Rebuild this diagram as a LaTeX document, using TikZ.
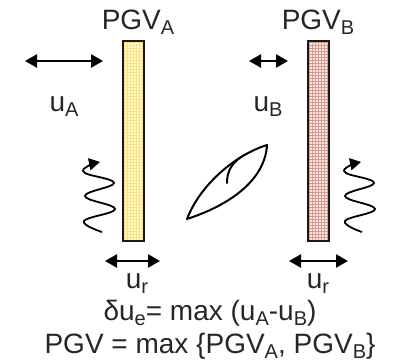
\documentclass[tikz,border=0pt]{standalone}
\usepackage{fontspec}
\setmainfont{Liberation Sans}
\usetikzlibrary{arrows.meta}
\definecolor{barAfill}{HTML}{FFF8D8}
\definecolor{barAgrid}{HTML}{FFE37A}
\definecolor{barBfill}{HTML}{F8E8E4}
\definecolor{barBgrid}{HTML}{D89A8C}
\newcommand\mysub[1]{\raisebox{-5pt}{\fontsize{20}{20}\selectfont #1}}
\begin{document}
\begin{tikzpicture}[x=1pt,y=-1pt,
  lbl/.style={inner sep=0pt,anchor=base,font=\fontsize{28}{32}\selectfont,text=black!85},
  dbl/.style={line width=2.4pt,{Triangle[length=12pt,width=13pt]}-{Triangle[length=12pt,width=13pt]}},
  wave/.style={line width=1.8pt,-{Triangle[length=11pt,width=12pt]}},
  leaf/.style={line width=2pt,line join=round,line cap=round},
  barA/.style={draw=black!90,line width=2pt,minimum width=21pt,minimum height=200pt,inner sep=0pt,fill=barAfill,
    path picture={\draw[barAgrid,line width=0.45pt] ([shift={(-2pt,-2pt)}]path picture bounding box.south west) grid[step=3pt] (path picture bounding box.north east);}},
  barB/.style={draw=black!90,line width=2pt,minimum width=21pt,minimum height=200pt,inner sep=0pt,fill=barBfill,
    path picture={\draw[barBgrid,line width=0.4pt] ([shift={(-2pt,-2pt)}]path picture bounding box.south west) grid[step=3pt] (path picture bounding box.north east);}}
]
\useasboundingbox (0,0) rectangle (404,363);
% bars
\node[barA] (A) at (133.5,141) {};
\node[barB] (B) at (318,141.5) {};
% top labels
\node[lbl] (pgva) at (138,30) {PGV\mysub{A}};
\node[lbl] (pgvb) at (318,30) {PGV\mysub{B}};
% uA / uB arrows
\coordinate (uAl) at (25,61); \coordinate (uAr) at (103,61);
\draw[dbl] (uAl) -- (uAr);
\node[lbl] (ua) at (64,112) {u\mysub{A}};
\coordinate (uBl) at (249,61); \coordinate (uBr) at (288,61);
\draw[dbl] (uBl) -- (uBr);
\node[lbl] (ub) at (268,112) {u\mysub{B}};
% bottom arrows
\coordinate (rAl) at (105,261); \coordinate (rAr) at (160,261);
\draw[dbl] (rAl) -- (rAr);
\node[lbl] (ura) at (137,288) {u\mysub{r}};
\coordinate (rBl) at (289,261); \coordinate (rBr) at (348,261);
\draw[dbl] (rBl) -- (rBr);
\node[lbl] (urb) at (318,288) {u\mysub{r}};
% waves
\draw[wave] plot[smooth,tension=0.7] coordinates {(102,232) (84,221) (115,209) (85,196) (114,183) (85,173) (88,166) (100,162)};
\draw[wave] plot[smooth,tension=0.7] coordinates {(362,232) (345,221) (375,209) (345,196) (374,183) (346,173) (349,166) (361,162)};
% leaf
\draw[leaf] (187,219) .. controls (200,185) and (235,155) .. (267,145)
  .. controls (265,180) and (230,205) .. (187,219) -- cycle;
\draw[leaf] (227,183) .. controls (227,172) and (231,164) .. (241,157);
% formulas
\node[lbl] (f1) at (210,320) {δu\mysub{e}= max (u\mysub{A}-u\mysub{B})};
\node[lbl] (f2) at (210,353) {PGV = max \{PGV\mysub{A}, PGV\mysub{B}\}};
\end{tikzpicture}
\end{document}
